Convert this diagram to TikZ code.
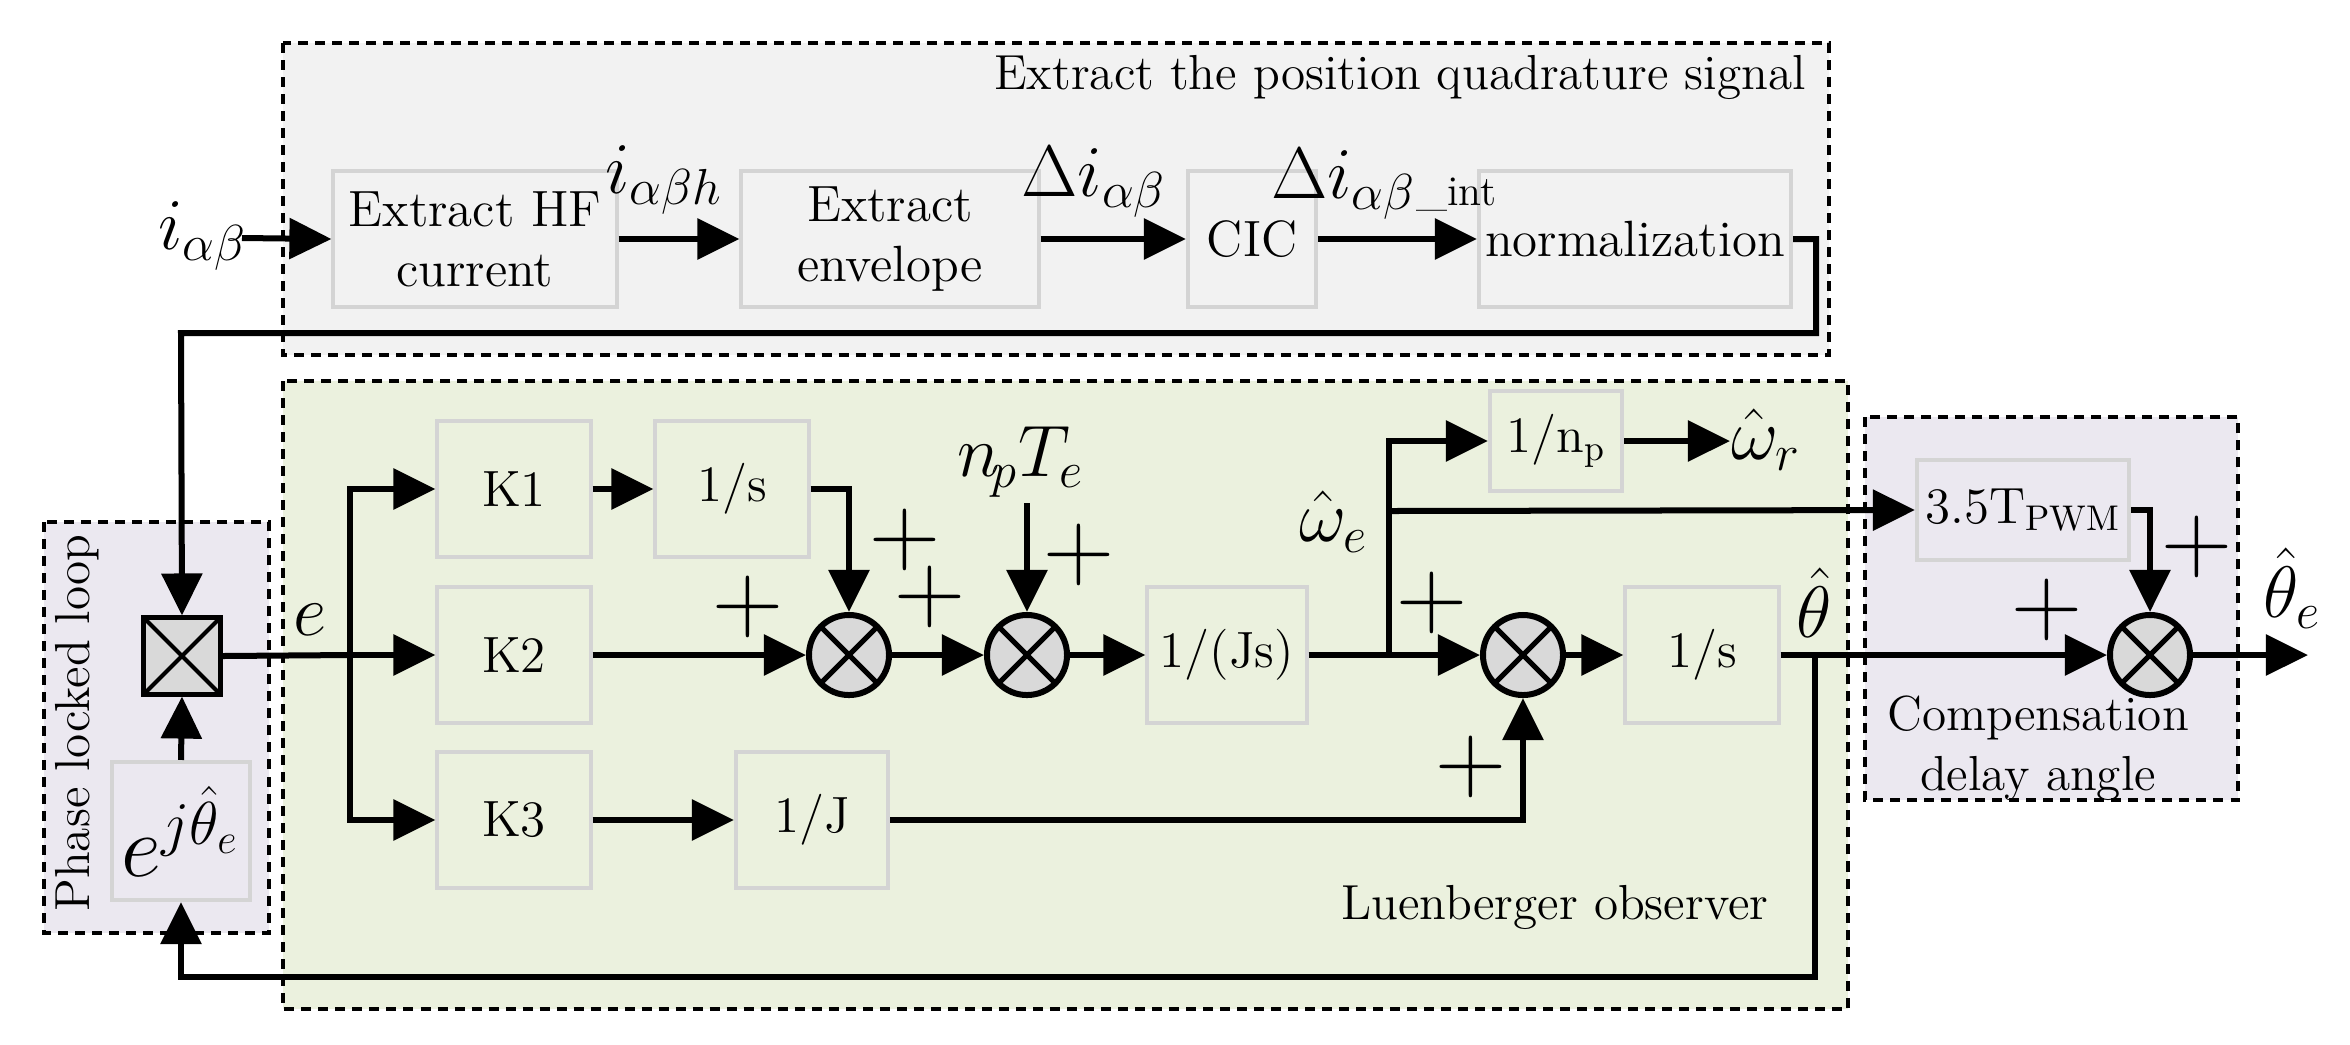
\documentclass[tikz,border=0pt]{standalone}
\usetikzlibrary{arrows.meta}
\definecolor{graybg}{HTML}{F2F2F2}
\definecolor{greenbg}{HTML}{EBF1DE}
\definecolor{lavbg}{HTML}{EBE8F0}
\definecolor{blkline}{HTML}{D4D4D4}
\begin{document}
\begin{tikzpicture}[x=0.01cm,y=-0.01cm,
  grp/.style={dash pattern=on 0.1cm off 0.07cm,line width=0.045cm},
  blk/.style={draw=blkline,line width=0.04cm,inner sep=0pt,align=center,font=\fontsize{14.5}{17}\selectfont},
  wire/.style={line width=0.06cm},
  arr/.style={wire,-{Triangle[length=0.42cm,width=0.4cm]}},
  sum/.style={circle,draw,line width=0.06cm,fill=gray!30,minimum size=0.8cm,inner sep=0pt,
    path picture={\draw[line width=0.05cm] ([xshift=0.11cm,yshift=0.11cm]path picture bounding box.south west) -- ([xshift=-0.11cm,yshift=-0.11cm]path picture bounding box.north east)
      ([xshift=0.11cm,yshift=-0.11cm]path picture bounding box.north west) -- ([xshift=-0.11cm,yshift=0.11cm]path picture bounding box.south east);}},
  lab/.style={font=\fontsize{20}{22}\selectfont},
  pl/.style={font=\fontsize{28}{28}\selectfont,inner sep=0pt},
  txt/.style={font=\fontsize{14}{17}\selectfont,align=center}]
\useasboundingbox (0,0) rectangle (2350,1044);
% groups
\draw[grp,fill=graybg] (283,43) rectangle (1829,355);
\draw[grp,fill=greenbg] (283,381) rectangle (1848,1009);
\draw[grp,fill=lavbg] (44,522) rectangle (269,933);
\draw[grp,fill=lavbg] (1865,417) rectangle (2238,800);
\node[txt,anchor=east] (t1) at (1818,77) {Extract the position quadrature signal};
\node[txt] (t2) at (1555,907) {Luenberger observer};
\node[txt] (t3) at (2038,748) {Compensation\\delay angle};
\node[txt,rotate=90] (t4) at (77,723) {Phase locked loop};
% blocks
\node[blk,minimum width=2.83cm,minimum height=1.36cm] (hf) at (475,239) {Extract HF\\current};
\node[blk,minimum width=2.97cm,minimum height=1.36cm] (env) at (890,239) {Extract\\envelope};
\node[blk,minimum width=1.28cm,minimum height=1.36cm] (cic) at (1252,239) {CIC};
\node[blk,minimum width=3.12cm,minimum height=1.36cm] (norm) at (1635,239) {normalization};
\node[blk,minimum width=1.53cm,minimum height=1.36cm] (k1) at (514,489) {K1};
\node[blk,minimum width=1.53cm,minimum height=1.36cm] (k2) at (514,655) {K2};
\node[blk,minimum width=1.53cm,minimum height=1.36cm] (k3) at (514,820) {K3};
\node[blk,minimum width=1.53cm,minimum height=1.36cm] (s1) at (732,489) {1/s};
\node[blk,minimum width=1.52cm,minimum height=1.36cm] (jj) at (812,820) {1/J};
\node[blk,minimum width=1.59cm,minimum height=1.36cm] (js) at (1227,655) {1/(Js)};
\node[blk,minimum width=1.32cm,minimum height=1.0cm] (np) at (1556,441) {1/n\textsubscript{p}};
\node[blk,minimum width=1.53cm,minimum height=1.36cm] (s2) at (1702,655) {1/s};
\node[blk,minimum width=2.12cm,minimum height=1.0cm] (pwm) at (2023,510) {3.5T\textsubscript{PWM}};
\node[blk,minimum width=1.38cm,minimum height=1.38cm,font=\fontsize{24}{26}\selectfont] (ej) at (181,831) {$e^{j\hat{\theta}_e}$};
\node[draw,line width=0.05cm,fill=gray!30,minimum size=0.76cm,inner sep=0pt,
  path picture={\draw[line width=0.04cm] (path picture bounding box.south west) -- (path picture bounding box.north east)
   (path picture bounding box.north west) -- (path picture bounding box.south east);}] (mult) at (182,656) {};
\node[sum] (a) at (849,655) {};
\node[sum] (b) at (1027,655) {};
\node[sum] (c) at (1523,655) {};
\node[sum] (d) at (2150,655) {};
% top row
\coordinate (iin) at (242,238);
\node[lab] (liab) at (203,236) {$i_{\alpha\beta}$};
\draw[arr] (iin) -- (hf.west);
\draw[arr] (hf.east) -- (env.west);
\draw[arr] (env.east) -- (cic.west);
\draw[arr] (cic.east) -- (norm.west);
\node[lab] (l1) at (664,180) {$i_{\alpha\beta h}$};
\node[lab] (l2) at (1094,182) {$\Delta i_{\alpha\beta}$};
\node[lab] (l3) at (1384,184) {$\Delta i_{\alpha\beta}$\raisebox{-2pt}{\fontsize{12}{12}\selectfont\_int}};
\coordinate (n1) at (1816,239);
\coordinate (n2) at (1816,333);
\coordinate (n3) at (181,333);
\draw[arr] (norm.east) -- (n1) -- (n2) -- (n3) -- (mult.north);
\draw[arr] (ej.north) -- (mult.south);
% observer
\coordinate (e0) at (350,655);
\node[lab] (le) at (310,620) {$e$};
\draw[wire] (mult.east) -- (e0);
\draw[arr] (e0) -- (k2.west);
\draw[arr] (e0) |- (k1.west);
\draw[arr] (e0) |- (k3.west);
\draw[arr] (k1.east) -- (s1.west);
\draw[arr] (s1.east) -| (a.north);
\draw[arr] (k2.east) -- (a.west);
\draw[arr] (a.east) -- (b.west);
\coordinate (tq) at (1027,503);
\node[lab] (lt) at (1021,462) {$n_{\!p}T_e$};
\draw[arr] (tq) -- (b.north);
\draw[arr] (b.east) -- (js.west);
\draw[arr] (js.east) -- (c.west);
\coordinate (br) at (1389,655);
\coordinate (bw) at (1389,511);
\draw[arr] (br) |- (np.west);
\coordinate (wr) at (1730,441);
\draw[arr] (np.east) -- (wr);
\node[lab] (lwr) at (1766,440) {$\hat{\omega}_r$};
\node[lab] (lwe) at (1334,522) {$\hat{\omega}_e$};
\draw[arr] (bw) -- (pwm.west);
\draw[arr] (k3.east) -- (jj.west);
\draw[arr] (jj.east) -| (c.south);
\draw[arr] (c.east) -- (s2.west);
\draw[arr] (s2.east) -- (d.west);
\draw[arr] (pwm.east) -| (d.north);
\coordinate (out) at (2308,655);
\draw[arr] (d.east) -- (out);
\node[lab] (lth) at (1814,603) {$\hat{\theta}$};
\node[lab] (lthe) at (2292,588) {$\hat{\theta}_e$};
\coordinate (fb1) at (1815,655);
\coordinate (fb2) at (1815,977);
\draw[arr] (fb1) -- (fb2) -| (ej.south);
% plus signs
\node[pl] (p1) at (905,540) {+};
\node[pl] (p2) at (748,607) {+};
\node[pl] (p3) at (930,597) {+};
\node[pl] (p4) at (1079,555) {+};
\node[pl] (p5) at (1432,603) {+};
\node[pl] (p6) at (1471,767) {+};
\node[pl] (p7) at (2047,610) {+};
\node[pl] (p8) at (2197,547) {+};
\end{tikzpicture}
\end{document}
